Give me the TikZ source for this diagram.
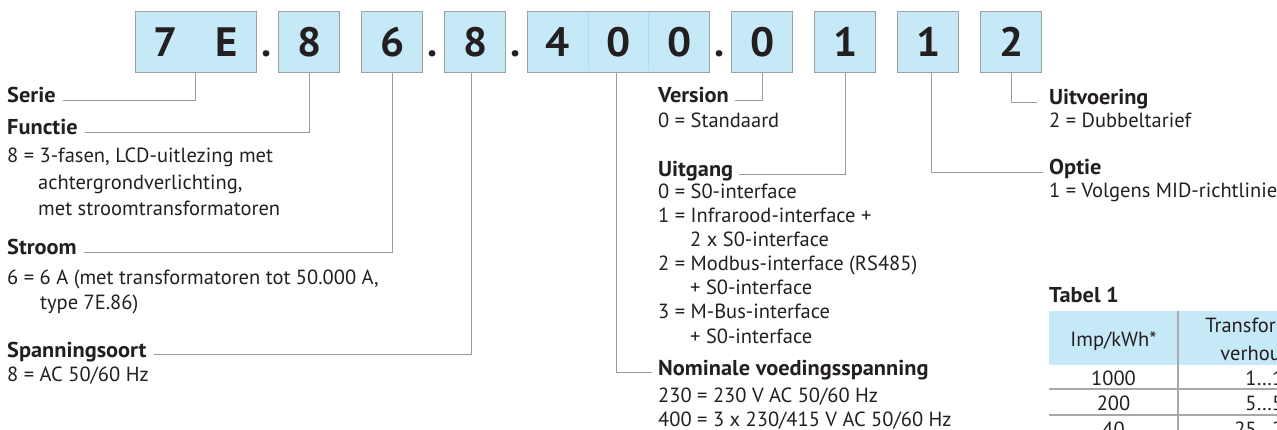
\documentclass[tikz,border=0pt]{standalone}
\usepackage{fontspec}
\setmainfont{PT Sans}
\newfontfamily\wideb{PT Sans}[FakeStretch=1.04]
\definecolor{boxblue}{HTML}{C6E9F8}
\definecolor{boxline}{HTML}{A0A0A0}
\definecolor{cellsep}{HTML}{B4DCEC}
\definecolor{leadc}{HTML}{9B9B9B}
\definecolor{gridc}{HTML}{A8A8A8}
\definecolor{ink}{HTML}{231F20}
\newcommand{\cellw}[1]{\makebox[60.7pt]{#1}}
\tikzset{
  cell/.style={draw=boxline, fill=boxblue, line width=1.2pt, minimum height=61pt,
    minimum width=61pt, inner sep=0pt, text=ink, anchor=north west,
    font=\wideb\fontsize{41}{41}\selectfont\bfseries},
  sep/.style={inner sep=0pt, anchor=base, text=ink, font=\fontsize{41}{41}\selectfont\bfseries},
  ttl/.style={inner sep=0pt, anchor=base west, text=ink, font=\wideb\fontsize{21.5}{24}\selectfont\bfseries},
  desc/.style={inner sep=0pt, anchor=base west, text=ink, font=\fontsize{20.5}{24}\selectfont},
  tc/.style={inner sep=0pt, anchor=base, text=ink, font=\fontsize{20.5}{24}\selectfont},
  leader/.style={draw=leadc, line width=1.2pt},
  gridline/.style={draw=gridc, line width=1.5pt}
}
\begin{document}
\begin{tikzpicture}[x=1pt, y=-1pt]
\useasboundingbox (0,0) rectangle (1277,430);
% code boxes
\node[cell, minimum width=121.5pt] (b7E) at (134.5,11) {\cellw{7}\cellw{E}};
\node[sep] (d1) at (267,57) {.};
\node[cell] (b8a) at (278,11) {8};
\node[cell] (b6) at (361,11) {6};
\node[sep] (d2) at (433,57) {.};
\node[cell] (b8b) at (444,11) {8};
\node[sep] (d3) at (516,57) {.};
\node[cell, minimum width=182pt] (b400) at (527,11) {\cellw{4}\cellw{0}\cellw{0}};
\draw[draw=cellsep, line width=0.5pt] (588,12) -- (588,71) (648,12) -- (648,71);
\node[sep] (d4) at (720,57) {.};
\node[cell] (b0) at (731,11) {0};
\node[cell] (b1a) at (814,11) {1};
\node[cell] (b1b) at (897,11) {1};
\node[cell] (b2) at (980,11) {2};

% left column
\node[ttl] (serie) at (7,103) {Serie};
\node[ttl] (functie) at (7,135) {Functie};
\node[desc] (f1) at (7,163) {8 = 3-fasen, LCD-uitlezing met};
\node[desc] (f2) at (38,189.5) {achtergrondverlichting,};
\node[desc] (f3) at (38,216) {met stroomtransformatoren};
\node[ttl] (stroom) at (7,255) {Stroom};
\node[desc] (s1) at (7,285) {6 = 6 A (met transformatoren tot 50.000 A,};
\node[desc] (s2) at (40,310) {type 7E.86)};
\node[ttl] (span) at (7,357) {Spanningsoort};
\node[desc] (sp1) at (7,381) {8 = AC 50/60 Hz};

% middle column
\node[ttl] (version) at (658,103) {Version};
\node[desc] (v1) at (658,128) {0 = Standaard};
\node[ttl] (uitgang) at (658,177) {Uitgang};
\node[desc] (u1) at (658,199) {0 = S0-interface};
\node[desc] (u2) at (658,223) {1 = Infrarood-interface +};
\node[desc] (u3) at (690,247) {2 x S0-interface};
\node[desc] (u4) at (658,271) {2 = Modbus-interface (RS485)};
\node[desc] (u5) at (690,295) {+ S0-interface};
\node[desc] (u6) at (658,319) {3 = M-Bus-interface};
\node[desc] (u7) at (690,343) {+ S0-interface};
\node[ttl] (nom) at (658,375) {Nominale voedingsspanning};
\node[desc] (n1) at (658,402) {230 = 230 V AC 50/60 Hz};
\node[desc] (n2) at (658,426) {400 = 3 x 230/415 V AC 50/60 Hz};

% right column
\node[ttl] (uitv) at (1049,105) {Uitvoering};
\node[desc] (uv1) at (1049,128) {2 = Dubbeltarief};
\node[ttl] (optie) at (1049,175) {Optie};
\node[desc] (o1) at (1049,198) {1 = Volgens MID-richtlinie};

% leaders
\draw[leader] (b7E.south) |- ([xshift=7pt]serie.mid east);
\draw[leader] (b8a.south) |- ([xshift=7pt]functie.mid east);
\draw[leader] (b6.south) |- ([xshift=7pt]stroom.mid east);
\draw[leader] ([xshift=-4pt]b8b.south) |- ([xshift=7pt]span.mid east);
\draw[leader] ([xshift=-2pt]b400.south) |- ([xshift=-6pt]nom.mid west);
\draw[leader] (b0.south) |- ([xshift=6pt]version.mid east);
\draw[leader] (b1a.south) |- ([xshift=6pt]uitgang.mid east);
\draw[leader] ([xshift=3pt]b1b.south) |- ([xshift=-6pt]optie.mid west);
\draw[leader] (b2.south) |- ([xshift=-12pt]uitv.mid west);

% table
\node[ttl] (tabel) at (1049,302.7) {Tabel 1};
\fill[boxblue] (1049,311) rectangle (1300,365);
\draw[gridline] (1178,311) -- (1178,440);
\draw[gridline] (1049,389) -- (1300,389);
\draw[gridline] (1049,415) -- (1300,415);
\node[tc] (h1) at (1113.5,346) {Imp/kWh*};
\node[tc] (h2a) at (1270,332.7) {Transformator-};
\node[tc] (h2b) at (1270,360) {verhouding};
\node[tc] (r1a) at (1113.5,385) {1000};
\node[tc] (r1b) at (1270,385) {1…10};
\node[tc] (r2a) at (1113.5,410.7) {200};
\node[tc] (r2b) at (1270,410.7) {5…50};
\node[tc] (r3a) at (1113.5,436) {40};
\node[tc] (r3b) at (1270,436) {25…250};
\end{tikzpicture}
\end{document}
